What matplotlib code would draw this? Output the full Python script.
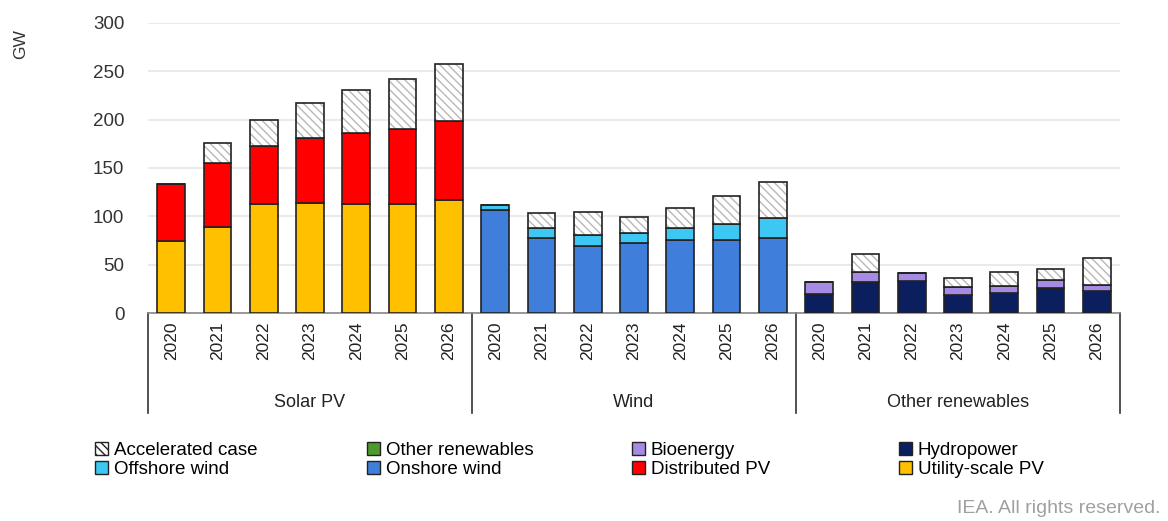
import matplotlib
matplotlib.use("Agg")
import matplotlib.pyplot as plt
from matplotlib.patches import Patch
import numpy as np

plt.rcParams['font.family'] = ['Liberation Sans', 'DejaVu Sans']

years = ['2020', '2021', '2022', '2023', '2024', '2025', '2026']
groups = ['Solar PV', 'Wind', 'Other renewables']

# Solar PV (GW)
utility_pv = [74, 89, 113, 114, 113, 113, 117]
distributed_pv = [59, 66, 60, 67, 73, 77, 82]
solar_accel = [0, 21, 27, 36, 45, 52, 59]

# Wind (GW)
onshore = [107, 78, 69, 72, 76, 76, 78]
offshore = [5, 10, 12, 11, 12, 16, 20]
wind_accel = [0, 15, 23, 16, 21, 29, 38]

# Other renewables (GW)
hydro = [20, 32, 33, 19, 21, 26, 23]
bio = [12, 10, 8, 8, 7, 8, 6]
other_ren = [0, 0, 0, 0, 0, 0, 0]
other_accel = [0, 19, 0, 9, 14, 12, 28]

c_util = '#FFC000'
c_dist = '#FF0000'
c_on = '#3F7FDB'
c_off = '#3CC8F2'
c_hydro = '#0B1F5E'
c_bio = '#A58BE3'
c_other = '#4F9A2E'
edge = '#222222'

fig = plt.figure(figsize=(11.68, 5.21), dpi=100)
ax = fig.add_axes([0.1267, 0.3992, 0.8322, 0.5567])

w = 0.6
x_sol = np.arange(7)
x_wind = np.arange(7) + 7
x_oth = np.arange(7) + 14


def accel(x, bottom, h):
    ax.bar(x, h, w, bottom=bottom, color='white', edgecolor='#b8b8b8',
           hatch='\\\\\\\\', linewidth=0, zorder=3)
    ax.bar(x, h, w, bottom=bottom, fill=False, edgecolor=edge,
           linewidth=1.2, zorder=4)


def stack(x, series, colors, acc):
    bottom = np.zeros(len(x))
    for vals, col in zip(series, colors):
        ax.bar(x, vals, w, bottom=bottom, color=col, edgecolor=edge,
               linewidth=1.2, zorder=3)
        bottom = bottom + np.array(vals)
    accel(x, bottom, np.array(acc))


stack(x_sol, [utility_pv, distributed_pv], [c_util, c_dist], solar_accel)
stack(x_wind, [onshore, offshore], [c_on, c_off], wind_accel)
stack(x_oth, [hydro, bio, other_ren], [c_hydro, c_bio, c_other], other_accel)

ax.set_xlim(-0.5, 20.5)
ax.set_ylim(0, 300)
ax.set_yticks(range(0, 301, 50))
ax.tick_params(axis='y', length=0, labelsize=13.5, colors='#333333', pad=17)
ax.yaxis.grid(True, color='#e6e6e6', linewidth=1.2, zorder=0)
ax.set_axisbelow(True)
for s in ['top', 'right', 'left']:
    ax.spines[s].set_visible(False)
ax.spines['bottom'].set_color('#888888')
ax.spines['bottom'].set_linewidth(1.2)

ax.set_xticks(range(21))
ax.set_xticklabels(years * 3, rotation=90, fontsize=12.5, color='#222222')
ax.tick_params(axis='x', length=0, pad=6)

# group separators and labels
for xs in [-0.5, 6.5, 13.5, 20.5]:
    ax.plot([xs, xs], [0, -0.345], transform=ax.get_xaxis_transform(),
            color='#333333', linewidth=1.2, clip_on=False)
for i, g in enumerate(groups):
    ax.text(i * 7 + 3, -0.31, g, transform=ax.get_xaxis_transform(),
            ha='center', va='center', fontsize=13, color='#222222')

fig.text(0.018, 0.915, 'GW', rotation=90, fontsize=12.5, color='#333333',
         ha='center', va='center')

columns = [
    [Patch(facecolor='white', edgecolor=edge, hatch='\\\\\\\\', label='Accelerated case'),
     Patch(facecolor=c_off, edgecolor=edge, label='Offshore wind')],
    [Patch(facecolor=c_other, edgecolor=edge, label='Other renewables'),
     Patch(facecolor=c_on, edgecolor=edge, label='Onshore wind')],
    [Patch(facecolor=c_bio, edgecolor=edge, label='Bioenergy'),
     Patch(facecolor=c_dist, edgecolor=edge, label='Distributed PV')],
    [Patch(facecolor=c_hydro, edgecolor=edge, label='Hydropower'),
     Patch(facecolor=c_util, edgecolor=edge, label='Utility-scale PV')],
]
col_x = [95, 367, 632, 899]
for cx, hs in zip(col_x, columns):
    fig.legend(handles=hs, loc='upper left', bbox_to_anchor=(cx / 1168, 1 - 442 / 521),
               frameon=False, fontsize=13.5, handlelength=0.7,
               handleheight=0.7, handletextpad=0.3,
               labelspacing=0.1, borderaxespad=0, borderpad=0)

fig.text(0.994, 0.008, 'IEA. All rights reserved.', ha='right', va='bottom',
         fontsize=14, color='#a0a0a0')

fig.savefig('out.png', dpi=100)
